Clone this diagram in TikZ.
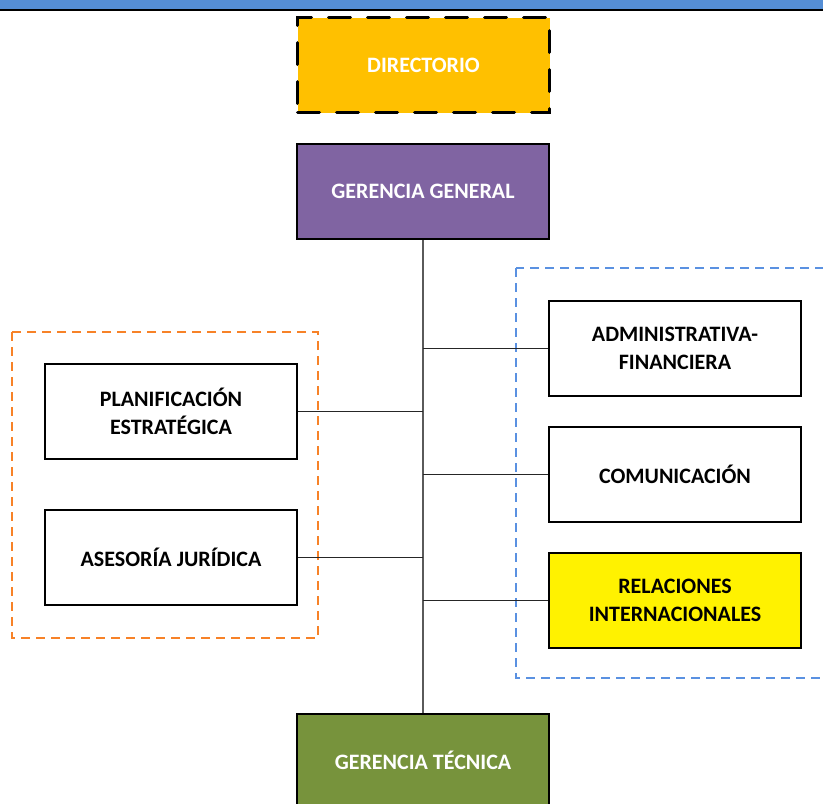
\documentclass[tikz,border=0pt]{standalone}
\usepackage{fontspec}
\setmainfont{Carlito}
\usetikzlibrary{positioning}
\definecolor{barblue}{RGB}{85,142,213}
\definecolor{dirgold}{RGB}{255,192,0}
\definecolor{gerpurple}{RGB}{128,100,162}
\definecolor{tecgreen}{RGB}{119,147,60}
\definecolor{grporange}{RGB}{247,130,40}
\definecolor{grpblue}{RGB}{90,145,225}
\definecolor{trunk}{RGB}{90,90,90}
\tikzset{
  unit/.style={draw=black, line width=2pt, minimum width=252pt, minimum height=95pt,
    inner sep=0pt, align=center, font=\fontsize{22}{28}\selectfont\bfseries, anchor=north west},
  whitetext/.style={text=white},
  link/.style={draw=black!85, line width=1.3pt},
  group/.style={line width=1.4pt, dash pattern=on 9pt off 6pt},
}
\begin{document}
\begin{tikzpicture}[x=1pt,y=-1pt]
\useasboundingbox (0,0) rectangle (823,804);
% header band
\fill[barblue] (0,0) rectangle (823,9);
\fill[black] (0,9) rectangle (823,11);
% group frames
\draw[group, draw=grporange] (12,332) rectangle (318,638);
\draw[group, draw=grpblue] (516,268) rectangle (830,678);
% units
\node[unit, fill=dirgold, whitetext, line width=3pt, line cap=round, dash pattern=on 22pt off 17pt] (dir) at (296,16) {DIRECTORIO};
\node[unit, fill=gerpurple, whitetext] (gg) at (296,143) {GERENCIA GENERAL};
\node[unit, fill=white] (adm) at (548,300) {ADMINISTRATIVA-\\FINANCIERA};
\node[unit, fill=white] (com) at (548,426) {COMUNICACIÓN};
\node[unit, fill=yellow] (rel) at (548,552) {RELACIONES\\INTERNACIONALES};
\node[unit, fill=white] (pla) at (44,363) {PLANIFICACIÓN\\ESTRATÉGICA};
\node[unit, fill=white] (ase) at (44,509) {ASESORÍA JURÍDICA};
\node[unit, fill=tecgreen, whitetext, minimum height=93pt] (tec) at (296,713) {GERENCIA TÉCNICA};
% connectors
\draw[line width=1.3pt, draw=trunk] (gg.south) -- (tec.north);
\draw[link] (gg.south |- adm.west) -- (adm.west);
\draw[link] (gg.south |- com.west) -- (com.west);
\draw[link] (gg.south |- rel.west) -- (rel.west);
\draw[link] (gg.south |- pla.east) -- (pla.east);
\draw[link] (gg.south |- ase.east) -- (ase.east);
\end{tikzpicture}
\end{document}
